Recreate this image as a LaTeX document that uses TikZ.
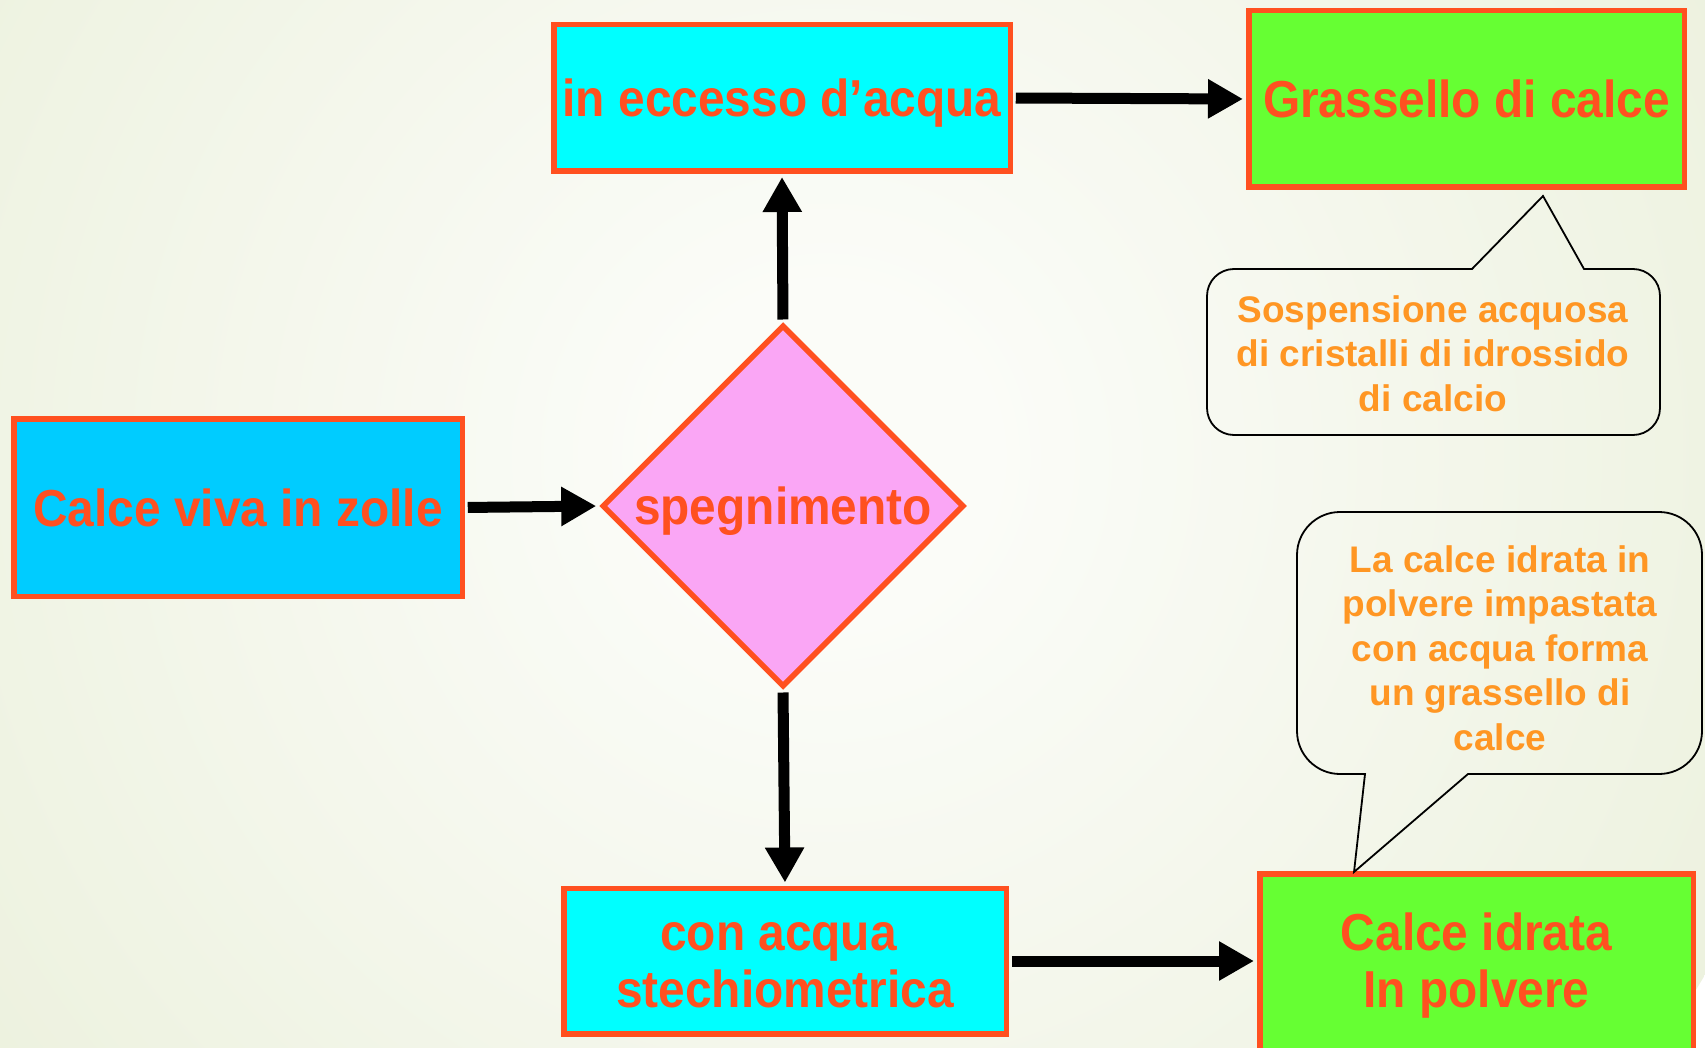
\documentclass[tikz,border=0pt]{standalone}
\usepackage{fontspec}
\newfontfamily\boxfont[FakeStretch=0.92]{Liberation Sans}
\newfontfamily\callfont{Liberation Sans}
\usetikzlibrary{arrows.meta,shapes.geometric}
\definecolor{bordc}{RGB}{255,80,32}
\definecolor{txtc}{RGB}{255,80,32}
\definecolor{callc}{RGB}{255,150,35}
\definecolor{blu}{RGB}{0,204,255}
\definecolor{cya}{RGB}{0,255,255}
\definecolor{grn}{RGB}{102,255,51}
\definecolor{pnk}{RGB}{250,166,245}
\definecolor{bgin}{RGB}{251,252,248}
\definecolor{bgout}{RGB}{220,229,193}
\pgfdeclareradialshading{bgsh}{\pgfpointorigin}{color(0bp)=(bgin); color(4bp)=(bgin); color(50bp)=(bgout)}
\begin{document}
\begin{tikzpicture}[x=1pt,y=-1pt,
  box/.style={draw=bordc, line width=5.5pt, rectangle, inner sep=0pt, text=txtc,
    font=\boxfont\bfseries\fontsize{52}{57}\selectfont, align=center},
  one/.style={text height=37pt, text depth=0pt},
  arr/.style={line width=11pt, -{Triangle[length=35pt,width=37pt]}, shorten <=2.75pt, shorten >=3pt},
  bubble/.style={draw=black, line width=1.8pt},
  btext/.style={text=callc, font=\callfont\bfseries\fontsize{37}{44.5}\selectfont, align=center, inner sep=0pt}
]
\useasboundingbox (0,0) rectangle (1705,1048);
\begin{scope}
  \clip (0,0) rectangle (1705,1048);
  \shade[shading=bgsh] (826,457) circle[radius=1020];
\end{scope}

% nodes
\node[box, one, fill=blu, minimum width=448.5pt, minimum height=177.5pt] (calce) at (238,507.5) {Calce viva in zolle};
\node[box, one, fill=cya, minimum width=456.5pt, minimum height=146.5pt] (ecc) at (782,98) {in eccesso d’acqua};
\node[box, one, fill=grn, minimum width=435.5pt, minimum height=176.5pt] (gras) at (1466.5,99) {Grassello di calce};
\node[box, one, shape=diamond, aspect=1, fill=pnk, minimum width=362pt, minimum height=362pt] (dia) at (783,506) {spegnimento};
\node[box, fill=cya, minimum width=442.5pt, minimum height=145.5pt] (con) at (785,961) {\rule{0pt}{37pt}con acqua\hspace*{13pt}\\stechiometrica};
\node[box, fill=grn, minimum width=433.5pt, minimum height=184pt] (idr) at (1476.5,966) {Calce idrata\\In polvere};

% connectors
\draw[arr] (calce.east) -- (dia.west);
\draw[arr] (dia.north) -- (ecc.south);
\draw[arr] (ecc.east) -- (gras.west);
\draw[arr] (dia.south) -- (con.north);
\draw[arr] (con.east) -- (idr.west |- con.east);

% callout 1
\draw[bubble] (1472,269) -- (1543,196) -- (1584,269) -- (1633,269)
  arc[start angle=-90, end angle=0, radius=27] -- (1660,408)
  arc[start angle=0, end angle=90, radius=27] -- (1234,435)
  arc[start angle=90, end angle=180, radius=27] -- (1207,296)
  arc[start angle=180, end angle=270, radius=27] -- cycle;
\node[btext, anchor=base] (t1) at (1433,411) {Sospensione acquosa\\di cristalli di idrossido\\di calcio};

% callout 2
\draw[bubble] (1340,512) -- (1659,512)
  arc[start angle=-90, end angle=0, radius=43] -- (1702,731)
  arc[start angle=0, end angle=90, radius=43] -- (1468,774) -- (1354,872) -- (1365,774) -- (1340,774)
  arc[start angle=90, end angle=180, radius=43] -- (1297,555)
  arc[start angle=180, end angle=270, radius=43] -- cycle;
\node[btext, anchor=base] (t2) at (1500,750) {La calce idrata in\\polvere impastata\\con acqua forma\\un grassello di\\calce};
\end{tikzpicture}
\end{document}
